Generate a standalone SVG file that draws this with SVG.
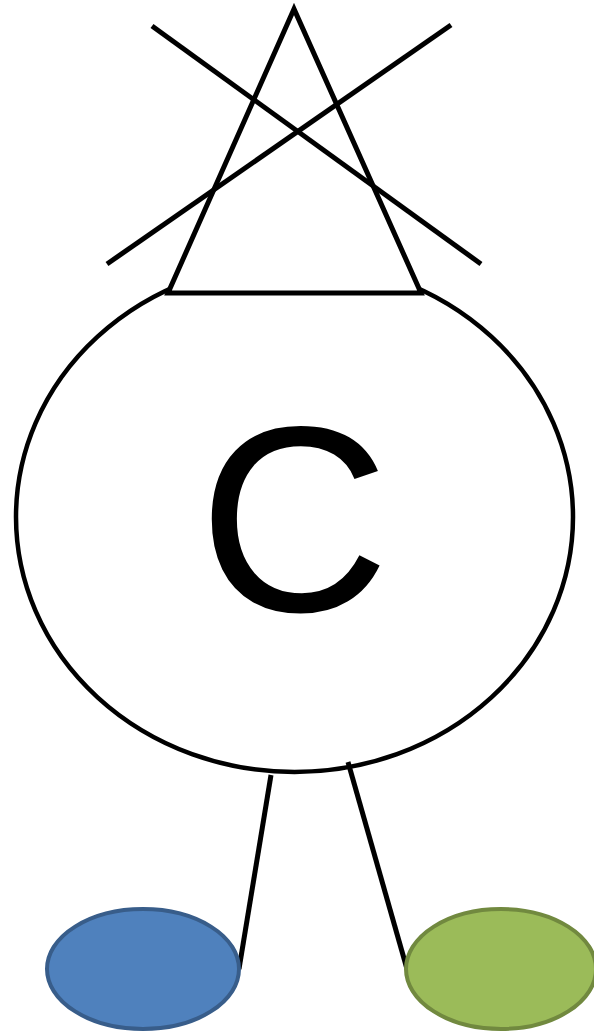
<svg xmlns="http://www.w3.org/2000/svg" width="594" height="1032" viewBox="0 0 594 1032">
<style>
.ln{stroke:#000;stroke-width:5;fill:none;stroke-linecap:butt}
</style>
<rect width="594" height="1032" fill="#fff"/>
<g id="body">
<ellipse cx="294.5" cy="517" rx="278.5" ry="255" fill="#fff" stroke="#000" stroke-width="4.5"/>
<text x="294" y="611" font-family="Liberation Sans, Arial, sans-serif" font-size="265" text-anchor="middle" fill="#000">C</text>
</g>
<g id="hat">
<polygon points="294,9 168,293 421,293" fill="#fff" stroke="#000" stroke-width="5" stroke-linejoin="miter"/>
</g>
<g id="cross">
<line class="ln" x1="152" y1="26" x2="481" y2="264"/>
<line class="ln" x1="451" y1="25" x2="107" y2="264"/>
</g>
<g id="connectors">
<line class="ln" x1="271" y1="775" x2="239" y2="969"/>
<line class="ln" x1="348" y1="762" x2="407" y2="969"/>
</g>
<g id="left-foot">
<ellipse cx="143" cy="969" rx="96" ry="60" fill="#4f81bd" stroke="#385d8a" stroke-width="4"/>
</g>
<g id="right-foot">
<ellipse cx="501" cy="969" rx="95" ry="60" fill="#9bbb59" stroke="#71893f" stroke-width="4"/>
</g>
</svg>
